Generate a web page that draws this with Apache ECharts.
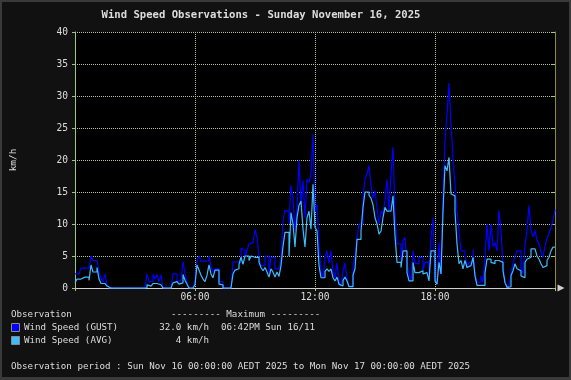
<!DOCTYPE html>
<html><head><meta charset="utf-8">
<script src="https://cdn.jsdelivr.net/npm/echarts@6/dist/echarts.min.js"></script>
<style>html,body{margin:0;padding:0;background:#3a3a3a;}#c{width:571px;height:380px;}</style>
</head><body><div id="c"></div>
<script>
// sampling grid: one value every 0.1 h (6 min) from 00:00 to 24:00
const startHour = 0;
const stepHours = 0.1;
const gust = [
 2.2,2.2,2.2,3.1,3.1,3.1,3.1,3.1,5.0,4.3,
 4.3,4.3,2.5,1.5,1.0,2.2,0.5,0,0,0,
 0,0,0,0,0,0,0,0,0,0,
 0,0,0,0,0,0,2.2,1.0,1.0,2.2,
 1.4,2.1,1.0,2.1,0,0,0,0,0,2.2,
 2.2,1.0,1.2,1.0,4.1,2.2,1.0,0,0,0,
 1.0,4.2,5.0,4.2,4.2,4.2,4.3,5.0,3.3,2.5,
 3.0,3.0,1.0,1.0,0,0,0,0,0,4.1,
 4.1,4.0,4.0,6.2,5.9,4.8,5.9,6.9,7.1,7.1,
 9.1,7.9,4.8,3.5,3.5,5.0,5.0,2.2,4.8,4.8,
 3.0,3.0,3.0,4.5,10.5,12.1,12.0,10.0,16.0,14.0,
 9.0,12.6,19.9,13.0,16.8,11.0,17.0,16.5,17.8,24.0,
 12.0,13.0,6.9,2.6,1.6,4.7,5.8,3.9,5.8,2.6,
 1.6,3.9,0.8,0.3,2.6,3.9,1.6,0.3,0.3,3.7,
 4.7,7.9,10.0,10.0,14.0,17.0,17.8,19.1,16.0,14.0,
 15.2,12.6,10.0,12.0,11.5,13.6,17.0,12.0,17.8,22.0,
 11.8,6.9,6.9,4.0,7.4,7.9,4.0,2.2,1.1,5.8,
 3.8,3.8,4.8,4.8,2.7,4.0,4.0,2.2,7.9,11.0,
 1.7,0.6,7.1,2.2,14.0,23.0,27.0,32.0,25.6,20.4,
 16.0,12.0,9.0,5.8,5.8,5.3,3.2,4.0,4.0,6.0,
 2.2,0.9,0.9,1.9,0.9,4.8,10.0,5.8,10.0,6.5,
 7.1,5.8,12.1,9.0,3.2,1.1,0.1,0.5,2.2,3.8,
 5.0,5.8,5.8,3.0,2.2,6.6,9.0,12.9,9.0,8.0,
 9.0,7.4,6.9,5.6,4.8,6.6,7.7,8.4,9.5,10.5,
 12.3
];
const avg = [
 0.8,1.4,1.4,1.4,1.7,1.7,1.7,1.2,3.6,2.5,
 2.5,3.2,1.4,0.7,0.7,0.6,0.3,0,0,0,
 0,0,0,0,0,0,0,0,0,0,
 0,0,0,0,0,0,0.5,0.3,0.4,0.7,
 0.7,0.8,0.5,0.6,0,0,0,0,0,0.8,
 1.0,0.8,0.6,0.8,2.1,1.2,0.6,0,0,0,
 0.5,3.6,2.8,2.0,1.4,1.0,2.0,3.6,2.2,1.6,
 2.8,2.8,0.6,0.5,0,0,0,0,0,2.2,
 2.8,3.0,3.7,4.8,3.7,5.0,5.0,4.3,5.0,4.8,
 4.8,4.8,4.0,3.2,2.7,3.2,2.5,1.7,3.0,2.5,
 1.7,2.5,1.8,3.5,6.5,8.7,8.7,5.0,11.8,10.0,
 6.4,11.0,12.9,13.6,9.2,6.4,11.0,12.0,9.2,16.2,
 9.5,8.9,3.5,1.6,1.6,2.6,3.0,2.6,3.0,1.6,
 1.1,1.7,0.6,0.3,1.2,1.7,1.1,0.2,0.2,2.0,
 3.0,7.6,7.6,8.9,12.6,15.0,15.0,14.5,14.0,13.0,
 11.0,10.0,8.4,8.9,11.0,12.6,12.0,12.0,12.0,14.4,
 8.2,4.0,4.0,3.2,5.8,5.8,2.4,1.1,1.1,4.0,
 2.4,2.4,2.7,2.7,2.2,2.4,2.4,1.1,5.8,5.8,
 1.1,0.6,4.0,2.2,12.0,19.1,18.3,20.4,14.7,14.4,
 12.0,6.9,3.8,4.3,3.0,4.3,3.2,3.5,3.5,4.8,
 1.9,0.4,0.4,0.6,0.4,2.4,4.5,4.5,4.0,3.8,
 4.3,4.3,4.5,4.0,2.7,0.8,0.1,0.2,1.9,2.7,
 3.8,3.0,2.7,1.9,1.6,4.0,4.5,4.8,6.1,6.1,
 5.8,5.0,4.5,3.8,3.2,3.5,4.3,4.8,5.8,6.4,
 6.4
];
const seriesNames = ['Wind Speed (GUST)', 'Wind Speed (AVG)'];
const seriesColors = ['#0000ff', '#3cbcff'];
const maxValues = ['32.0 km/h', '4 km/h'];
const maxTimes = ['06:42PM Sun 16/11', ''];
const xTicks = [0, 6, 12, 18, 24];
const yTicks = [0, 5, 10, 15, 20, 25, 30, 35, 40];
const titleText = 'Wind Speed Observations - Sunday November 16, 2025';
const periodText = 'Observation period : Sun Nov 16 00:00:00 AEDT 2025 to Mon Nov 17 00:00:00 AEDT 2025';

const toPairs = arr => arr.map((v, i) => [startHour + i * stepHours, v]);
const mono = 'DejaVu Sans Mono';
const fs = '9.2px "DejaVu Sans Mono"';
const txt = '#dddddd';
const grid = '#b0c8a0';

const chart = echarts.init(document.getElementById('c'), null, {renderer: 'canvas'});
chart.setOption({
  animation: false,
  backgroundColor: 'transparent',
  grid: {left: 75, right: 16, top: 32, bottom: 92, containLabel: false, outerBoundsMode: 'none',
         show: true, backgroundColor: '#000000', borderWidth: 0},
  xAxis: {
    type: 'value', min: xTicks[0], max: xTicks[xTicks.length - 1], interval: 6,
    axisLine: {show: true, lineStyle: {color: '#d0d0d0', width: 1}, symbol: ['none', 'triangle'], symbolSize: [7, 7], symbolOffset: [0, 6]},
    axisTick: {show: true, length: 3, lineStyle: {color: grid}},
    axisLabel: {color: txt, fontFamily: mono, fontSize: 9.6, margin: 4,
      formatter: v => (v === 0 || v === 24) ? '' : (v < 10 ? '0' : '') + v + ':00'},
    splitLine: {show: true, lineStyle: {color: grid, type: [1, 1], width: 1}}
  },
  yAxis: [{
    type: 'value', min: yTicks[0], max: yTicks[yTicks.length - 1], interval: 5,
    name: 'km/h', nameLocation: 'middle', nameRotate: 90, nameGap: 57,
    nameTextStyle: {color: txt, fontFamily: mono, fontSize: 9.4},
    axisLine: {show: true, lineStyle: {color: '#9cc884', width: 1}},
    axisTick: {show: true, length: 3, lineStyle: {color: '#9cc884'}},
    axisLabel: {color: txt, fontFamily: mono, fontSize: 9.6, margin: 7},
    splitLine: {show: true, lineStyle: {color: grid, type: [1, 1], width: 1}}
  }, {
    type: 'value', position: 'right', min: 0, max: 40, interval: 5,
    axisLine: {show: true, lineStyle: {color: '#8c8c3c', width: 1}},
    axisTick: {show: true, inside: true, length: 3, lineStyle: {color: '#9cc884'}},
    axisLabel: {show: false}, splitLine: {show: false}
  }],
  series: [
    {name: seriesNames[0], type: 'line', step: 'end', showSymbol: false, symbol: 'none',
     lineStyle: {color: seriesColors[0], width: 1.2}, data: toPairs(gust)},
    {name: seriesNames[1], type: 'line', step: 'end', showSymbol: false, symbol: 'none',
     lineStyle: {color: seriesColors[1], width: 1.2}, data: toPairs(avg)}
  ],
  graphic: [
    {type: 'rect', z: -10, shape: {x: 2, y: 2, width: 567, height: 375}, style: {fill: '#111111'}},
    {type: 'text', style: {text: titleText, x: 261, y: 15, textAlign: 'center', textVerticalAlign: 'middle', fill: txt, font: 'bold 10.6px "DejaVu Sans Mono"'}},
    {type: 'text', style: {text: 'Observation', x: 11, y: 315, textVerticalAlign: 'middle', fill: txt, font: fs}},
    {type: 'text', style: {text: '--------- Maximum ---------', x: 171, y: 315, textVerticalAlign: 'middle', fill: txt, font: fs}},
    {type: 'rect', shape: {x: 11.5, y: 323.5, width: 8, height: 8}, style: {fill: seriesColors[0], stroke: '#888888', lineWidth: 1}},
    {type: 'rect', shape: {x: 11.5, y: 336.5, width: 8, height: 8}, style: {fill: seriesColors[1], stroke: '#888888', lineWidth: 1}},
    {type: 'text', style: {text: seriesNames[0], x: 24, y: 328, textVerticalAlign: 'middle', fill: txt, font: fs}},
    {type: 'text', style: {text: seriesNames[1], x: 24, y: 341, textVerticalAlign: 'middle', fill: txt, font: fs}},
    {type: 'text', style: {text: maxValues[0], x: 209, y: 328, textAlign: 'right', textVerticalAlign: 'middle', fill: txt, font: fs}},
    {type: 'text', style: {text: maxValues[1], x: 209, y: 341, textAlign: 'right', textVerticalAlign: 'middle', fill: txt, font: fs}},
    {type: 'text', style: {text: maxTimes[0], x: 221, y: 328, textVerticalAlign: 'middle', fill: txt, font: fs}},
    {type: 'text', style: {text: periodText, x: 11, y: 367, textVerticalAlign: 'middle', fill: txt, font: fs}}
  ]
});
</script></body></html>
